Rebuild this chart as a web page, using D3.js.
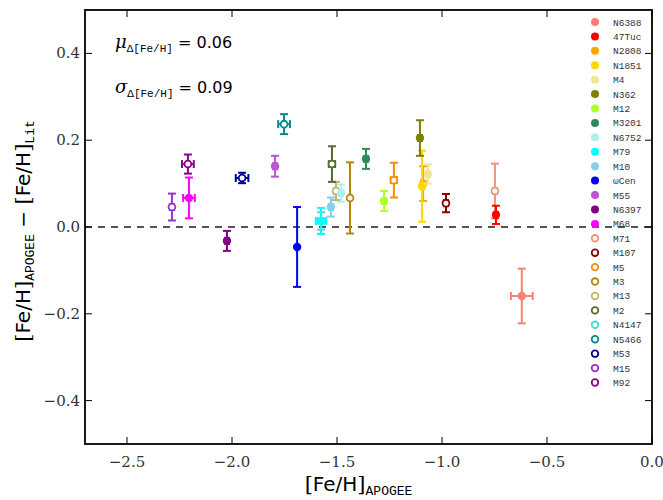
<!DOCTYPE html>
<html><head><meta charset="utf-8">
<script src="https://cdn.jsdelivr.net/npm/d3@7"></script>
<style>body{margin:0;background:#fff}</style>
</head><body>
<svg id="c" width="663" height="500"></svg>
<script>
const names = ["N6388","47Tuc","N2808","N1851","M4","N362","M12","M3201","N6752","M79","M10","\u03c9Cen","M55","N6397","M68","M71","M107","M5","M3","M13","M2","N4147","N5466","M53","M15","M92"];
const colors = ["#FA8072","#FF0000","#FFA500","#FFD700","#F0E68C","#808000","#ADFF2F","#2E8B57","#AFEEEE","#00FFFF","#87CEEB","#0000FF","#BA55D3","#800080","#FF00FF","#E9967A","#8B0000","#FF8C00","#B8860B","#BDB76B","#556B2F","#40E0D0","#008B8B","#00008B","#9932CC","#8B008B"];
const filled = [1,1,1,1,1,1,1,1,1,1,1,1,1,1,1,0,0,0,0,0,0,0,0,0,0,0];
const fehApogee = [-0.620,-0.743,-1.090,-1.095,-1.067,-1.105,-1.276,-1.362,-1.481,-1.576,-1.529,-1.690,-1.795,-2.024,-2.205,-0.748,-0.981,-1.229,-1.438,-1.505,-1.524,-1.576,-1.752,-1.952,-2.286,-2.210];
const dFeh = [-0.159,0.028,0.100,0.094,0.122,0.205,0.060,0.157,0.078,0.014,0.046,-0.046,0.140,-0.032,0.067,0.083,0.055,0.108,0.067,0.083,0.145,0.014,0.237,0.113,0.046,0.145];
const xErr = [0.052,0.010,0.010,0.010,0.010,0.010,0.010,0.010,0.010,0.025,0.010,0.005,0.010,0.010,0.028,0.010,0.010,0.015,0.005,0.010,0.015,0.020,0.028,0.030,0.010,0.028];
const yErr = [0.063,0.021,0.040,0.082,0.022,0.041,0.023,0.023,0.020,0.030,0.022,0.092,0.024,0.023,0.047,0.063,0.021,0.040,0.082,0.021,0.041,0.020,0.023,0.012,0.031,0.022];
const xTicks = [-2.5,-2.0,-1.5,-1.0,-0.5,0.0];
const yTicks = [-0.4,-0.2,0.0,0.2,0.4];
const muVal = "0.06", sigmaVal = "0.09";

const svg = d3.select("#c");
const L=85, R=652, T=10, B=444;
const x = d3.scaleLinear().domain([-2.7,0]).range([L,R]);
const y = d3.scaleLinear().domain([-0.5,0.5]).range([B,T]);
const fmt = v => (v<0?"\u2212":"") + Math.abs(v).toFixed(1);

// zero line
svg.append("line").attr("x1",L).attr("x2",R).attr("y1",y(0)).attr("y2",y(0))
  .attr("stroke","#555").attr("stroke-width",1.8).attr("stroke-dasharray","7,6");

const data = names.map((n,i)=>({n,c:colors[i],f:filled[i],x:fehApogee[i],y:dFeh[i],xe:xErr[i],ye:yErr[i]}));
const cap=4;
const g = svg.append("g");
const drawOrder = data.filter(d=>!d.f).concat(data.filter(d=>d.f));
drawOrder.forEach(d=>{
  const gg = g.append("g").attr("stroke",d.c).attr("stroke-width",2).attr("fill","none");
  const cx=x(d.x), cy=y(d.y);
  gg.append("line").attr("x1",cx).attr("x2",cx).attr("y1",y(d.y-d.ye)).attr("y2",y(d.y+d.ye));
  gg.append("line").attr("x1",x(d.x-d.xe)).attr("x2",x(d.x+d.xe)).attr("y1",cy).attr("y2",cy);
  [d.y-d.ye,d.y+d.ye].forEach(v=>gg.append("line").attr("x1",cx-cap).attr("x2",cx+cap).attr("y1",y(v)).attr("y2",y(v)));
  [d.x-d.xe,d.x+d.xe].forEach(v=>gg.append("line").attr("y1",cy-cap).attr("y2",cy+cap).attr("x1",x(v)).attr("x2",x(v)));
  if(d.f) gg.append("circle").attr("cx",cx).attr("cy",cy).attr("r",4.2).attr("fill",d.c).attr("stroke","none");
  else gg.append("circle").attr("cx",cx).attr("cy",cy).attr("r",3.4).attr("fill","#fff").attr("stroke-width",1.8);
});

// frame
svg.append("rect").attr("x",L).attr("y",T).attr("width",R-L).attr("height",B-T)
  .attr("fill","none").attr("stroke","#000").attr("stroke-width",1.8);
const tl=7;
xTicks.forEach(v=>{
  svg.append("line").attr("x1",x(v)).attr("x2",x(v)).attr("y1",B).attr("y2",B-tl).attr("stroke","#000").attr("stroke-width",1);
  svg.append("line").attr("x1",x(v)).attr("x2",x(v)).attr("y1",T).attr("y2",T+tl).attr("stroke","#000").attr("stroke-width",1);
  svg.append("text").attr("x",x(v)).attr("y",B+23).attr("text-anchor","middle")
    .attr("font-family","DejaVu Serif").attr("font-size",15).attr("fill","#333").text(fmt(v));
});
yTicks.forEach(v=>{
  svg.append("line").attr("x1",L).attr("x2",L+tl).attr("y1",y(v)).attr("y2",y(v)).attr("stroke","#000").attr("stroke-width",1);
  svg.append("line").attr("x1",R).attr("x2",R-tl).attr("y1",y(v)).attr("y2",y(v)).attr("stroke","#000").attr("stroke-width",1);
  svg.append("text").attr("x",L-5).attr("y",y(v)+5).attr("text-anchor","end")
    .attr("font-family","DejaVu Serif").attr("font-size",15).attr("fill","#333").text(fmt(v));
});

// axis labels
const xl = svg.append("text").attr("x",(L+R)/2 - 10).attr("y",491).attr("text-anchor","middle").attr("fill","#000");
xl.append("tspan").attr("font-family","DejaVu Serif").attr("font-size",21).text("[");
xl.append("tspan").attr("font-family","DejaVu Sans").attr("font-size",20).text("Fe/H");
xl.append("tspan").attr("font-family","DejaVu Serif").attr("font-size",21).text("]");
xl.append("tspan").attr("font-family","Liberation Mono").attr("font-size",13).attr("dy",4).text("APOGEE");

const yl = svg.append("text").attr("transform","translate(30,231) rotate(-90)").attr("text-anchor","middle").attr("fill","#000");
yl.append("tspan").attr("font-family","DejaVu Serif").attr("font-size",21).text("[");
yl.append("tspan").attr("font-family","DejaVu Sans").attr("font-size",20).text("Fe/H");
yl.append("tspan").attr("font-family","DejaVu Serif").attr("font-size",21).text("]");
yl.append("tspan").attr("font-family","Liberation Mono").attr("font-size",13).attr("dy",4).text("APOGEE");
yl.append("tspan").attr("font-family","DejaVu Serif").attr("font-size",20).attr("dy",-4).text(" \u2212 ");
yl.append("tspan").attr("font-family","DejaVu Serif").attr("font-size",21).text("[");
yl.append("tspan").attr("font-family","DejaVu Sans").attr("font-size",20).text("Fe/H");
yl.append("tspan").attr("font-family","DejaVu Serif").attr("font-size",21).text("]");
yl.append("tspan").attr("font-family","Liberation Mono").attr("font-size",13).attr("dy",4).text("Lit");

// annotations
[["\u03bc",muVal,48],["\u03c3",sigmaVal,93]].forEach(([s,v,yy])=>{
  const t = svg.append("text").attr("x",115).attr("y",yy).attr("fill","#000");
  t.append("tspan").attr("font-family","DejaVu Serif").attr("font-style","italic").attr("font-size",18).text(s);
  t.append("tspan").attr("font-family","Liberation Mono").attr("font-size",11).attr("dy",4).text("\u0394[Fe/H]");
  t.append("tspan").attr("font-family","DejaVu Sans").attr("font-size",16).attr("dy",-4).text(" = "+v);
});

// legend
const lg = svg.append("g");
data.forEach((d,i)=>{
  const yy = 22 + i*14.42;
  if(d.f) lg.append("circle").attr("cx",595).attr("cy",yy).attr("r",4).attr("fill",d.c);
  else lg.append("circle").attr("cx",595).attr("cy",yy).attr("r",3.3).attr("fill","#fff").attr("stroke",d.c).attr("stroke-width",1.8);
  lg.append("text").attr("x",613).attr("y",yy+3.5).attr("font-family","Liberation Mono").attr("font-size",9.5).attr("fill","#333").text(d.n);
});
</script>
</body></html>
